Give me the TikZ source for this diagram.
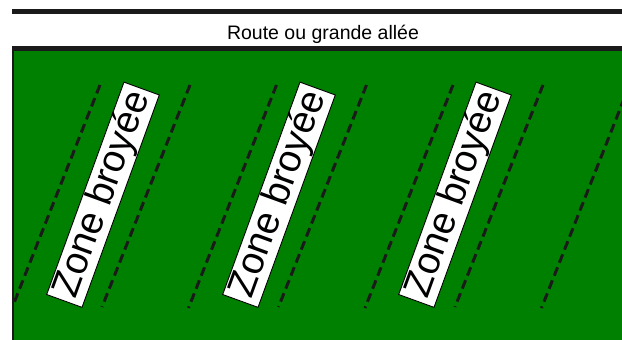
\documentclass[tikz,border=0pt]{standalone}
\usepackage{fontspec}
\setmainfont{Liberation Sans}
\definecolor{barcol}{HTML}{1A1A1A}
\definecolor{fieldcol}{HTML}{008000}
\begin{document}
\begin{tikzpicture}[x=1pt,y=-1pt,
  zonebox/.style={draw=black, line width=0.9pt, fill=white, rotate=70,
    minimum width=226pt, minimum height=37.6pt, inner sep=0pt,
    font=\fontsize{38.5}{38}\selectfont},
  rowline/.style={draw=barcol, line width=3pt, dash pattern=on 9pt off 5pt},
  roadlabel/.style={font=\fontsize{19.5}{20}\selectfont, anchor=base, inner sep=0pt}]
\useasboundingbox (0,0) rectangle (622,340);
\fill[barcol] (12,9) rectangle (622,14);
\node[roadlabel] (road) at (323,39) {Route ou grande allée};
\fill[barcol] (12,46) rectangle (622,51);
\fill[barcol] (12,46) rectangle (14,340);
\fill[fieldcol] (14,51) rectangle (622,340);
\begin{scope}
  \clip (14,51) rectangle (622,340);
  \foreach \k in {0,1,2,3} {
    \coordinate (ta\k) at ({100+176.5*\k},85);
    \coordinate (ba\k) at ({12+176.5*\k},308);
    \draw[rowline] (ta\k) -- (ba\k);
  }
  \foreach \k in {0,1,2} {
    \coordinate (tb\k) at ({190+176.5*\k},85);
    \coordinate (bb\k) at ({102+176.5*\k},307);
    \draw[rowline] (tb\k) -- (bb\k);
  }
\end{scope}
\foreach \k in {0,1,2} {
  \node[zonebox] (z\k) at ({103+176*\k},194.75) {Zone broyée};
}
\end{tikzpicture}
\end{document}
